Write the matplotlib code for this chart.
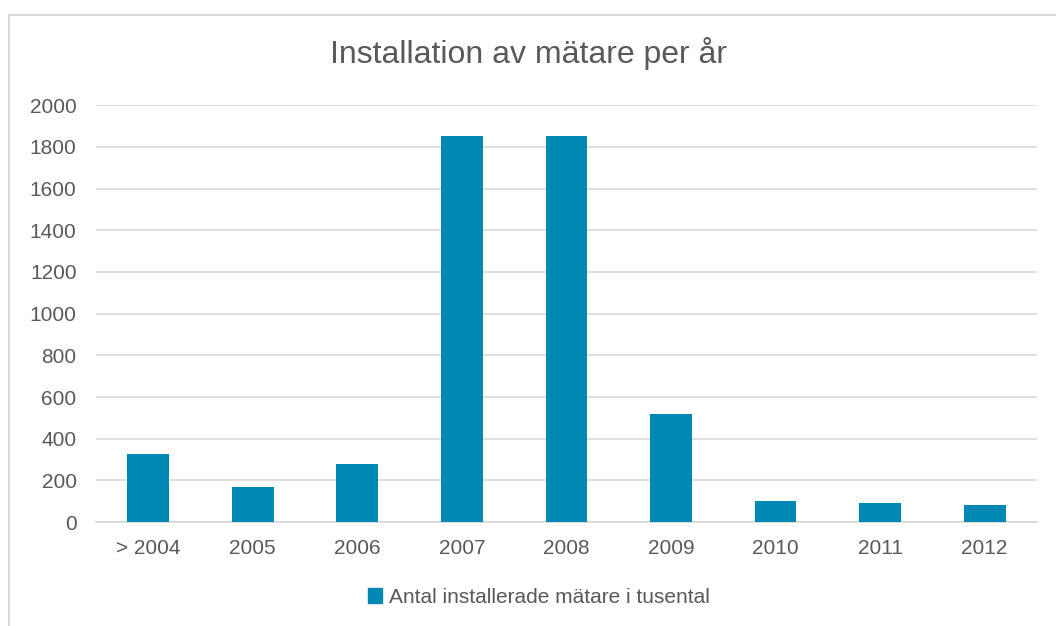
import matplotlib
matplotlib.use('Agg')
import matplotlib.pyplot as plt
from matplotlib.lines import Line2D
from matplotlib.patches import Patch

years = ['> 2004', '2005', '2006', '2007', '2008', '2009', '2010', '2011', '2012']
antal = [325, 170, 280, 1850, 1850, 520, 100, 90, 80]
yticks = [0, 200, 400, 600, 800, 1000, 1200, 1400, 1600, 1800, 2000]

bar_color = '#0088b5'
text_color = '#595959'

plt.rcParams['font.family'] = ['Liberation Sans', 'DejaVu Sans']

fig = plt.figure(figsize=(10.56, 6.26), dpi=100)
ax = fig.add_axes([0.0909, 0.166, 0.891, 0.666])

x = list(range(len(years)))
ax.bar(x, antal, width=0.4, color=bar_color, zorder=3)
ax.set_xlim(-0.5, len(years) - 0.5)
ax.set_ylim(0, 2000)
ax.set_yticks(yticks)
ax.set_xticks(x)
ax.set_xticklabels(years)
ax.grid(axis='y', color='#d9d9d9', linewidth=1.2, zorder=0)
for s in ['top', 'right', 'left']:
    ax.spines[s].set_visible(False)
ax.spines['bottom'].set_color('#d9d9d9')
ax.spines['bottom'].set_linewidth(1.2)
ax.tick_params(axis='both', length=0, labelsize=15, colors=text_color)
ax.tick_params(axis='x', pad=12)
ax.tick_params(axis='y', pad=14)

# titel
fig.text(0.5, 0.915, 'Installation av mätare per år', ha='center', va='center',
         fontsize=23, color=text_color)

# legend
handles = [Patch(color=bar_color, label='Antal installerade mätare i tusental')]
fig.legend(handles=handles, loc='center', bbox_to_anchor=(0.51, 0.046), frameon=False,
           fontsize=15, labelcolor=text_color, handlelength=0.7, handleheight=0.7,
           handletextpad=0.3)

# ram runt diagrammet
fig.add_artist(Line2D([9/1056, 9/1056], [0, 1 - 15/626], transform=fig.transFigure,
                      color='#d9d9d9', linewidth=1.5))
fig.add_artist(Line2D([9/1056, 1], [1 - 15/626, 1 - 15/626], transform=fig.transFigure,
                      color='#d9d9d9', linewidth=1.5))

fig.savefig('out.png', dpi=100)
